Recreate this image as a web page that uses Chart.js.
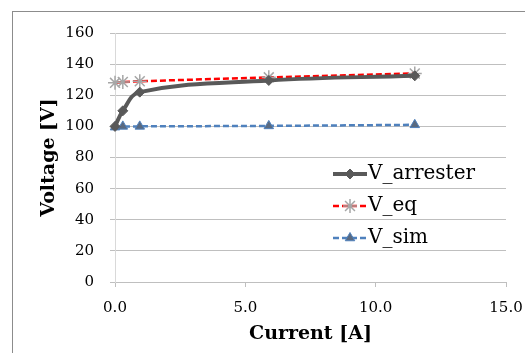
<!DOCTYPE html>
<html>
<head>
<meta charset="utf-8">
<script src="https://cdn.jsdelivr.net/npm/chart.js@4/dist/chart.umd.min.js"></script>
<style>
html,body{margin:0;padding:0;background:#fff;}
#wrap{position:relative;width:525px;height:353px;overflow:hidden;}
#frame{position:absolute;left:12px;top:11px;width:600px;height:400px;border-left:1px solid #8c8c8c;border-top:1px solid #8c8c8c;}
canvas{position:absolute;left:0;top:0;}
</style>
</head>
<body>
<div id="wrap">
<div id="frame"></div>
<canvas id="c" width="525" height="353"></canvas>
</div>
<script>
const current = [0, 0.3, 0.95, 5.9, 11.5];
const vArrester = [100, 110, 122, 129.5, 132.5];
const vEq = [128, 128.5, 129, 131.5, 134];
const vSim = [99.5, 100, 100, 100.3, 101];
const seriesNames = ['V_arrester', 'V_eq', 'V_sim'];
const xTicks = [0, 5, 10, 15];
const yTicks = [0, 20, 40, 60, 80, 100, 120, 140, 160];

const pts = (ys) => current.map((x, i) => ({x: x, y: ys[i]}));
const SERIF = '"DejaVu Serif", "Liberation Serif", serif';

const legendPlugin = {
  id: 'insideLegend',
  afterDatasetsDraw(chart) {
    const ctx = chart.ctx;
    const x0 = 333, x1 = 367, tx = 368;
    const ys = [174, 206, 238];
    chart.data.datasets.forEach((ds, i) => {
      const y = ys[i];
      ctx.save();
      ctx.strokeStyle = ds.borderColor;
      ctx.lineWidth = ds.borderWidth;
      ctx.setLineDash(ds.borderDash || []);
      ctx.beginPath();
      ctx.moveTo(x0, y);
      ctx.lineTo(x1, y);
      ctx.stroke();
      ctx.setLineDash([]);
      ctx.fillStyle = ds.pointBackgroundColor;
      ctx.strokeStyle = ds.pointBorderColor;
      ctx.lineWidth = ds.pointBorderWidth;
      Chart.helpers.drawPoint(ctx, {pointStyle: ds.pointStyle, radius: ds.pointRadius, rotation: 0, borderWidth: ds.pointBorderWidth}, (x0 + x1) / 2, y);
      ctx.fillStyle = '#000';
      ctx.font = '20px ' + SERIF;
      ctx.textBaseline = 'middle';
      ctx.textAlign = 'left';
      ctx.fillText(ds.label, tx, y);
      ctx.restore();
    });
  }
};

new Chart(document.getElementById('c'), {
  type: 'line',
  data: {
    datasets: [
      {
        label: seriesNames[0], data: pts(vArrester), borderColor: '#595959', borderWidth: 4,
        tension: 0.4, clip: false,
        pointStyle: 'rectRot', pointRadius: 5, pointBackgroundColor: '#595959', pointBorderColor: '#595959', pointBorderWidth: 1
      },
      {
        label: seriesNames[1], data: pts(vEq), borderColor: '#ff0000', borderWidth: 2.5, borderDash: [6, 3],
        tension: 0, clip: false,
        pointStyle: 'star', pointRadius: 7, pointBackgroundColor: '#a6a6a6', pointBorderColor: '#a6a6a6', pointBorderWidth: 1.5
      },
      {
        label: seriesNames[2], data: pts(vSim), borderColor: '#4f81bd', borderWidth: 2.5, borderDash: [6, 3],
        tension: 0, clip: false,
        pointStyle: 'triangle', pointRadius: 5.5, pointBackgroundColor: '#5a6a80', pointBorderColor: '#4f81bd', pointBorderWidth: 1
      }
    ]
  },
  options: {
    responsive: false,
    animation: false,
    events: [],
    layout: {padding: {left: 0, right: 19, top: 33, bottom: 0}},
    plugins: {legend: {display: false}, tooltip: {enabled: false}},
    scales: {
      x: {
        type: 'linear', min: 0, max: 15,
        afterFit: (s) => { s.height = 71; s.paddingLeft = 0; s.paddingRight = 0; },
        afterBuildTicks: (s) => { s.ticks = xTicks.map(v => ({value: v})); },
        grid: {drawOnChartArea: false, drawTicks: true, tickLength: 5, color: '#bfbfbf'},
        border: {color: '#bfbfbf'},
        ticks: {font: {family: SERIF, size: 15}, color: '#000', padding: 12, maxRotation: 0,
          callback: (v) => Number(v).toFixed(1)},
        title: {display: true, text: 'Current [A]', font: {family: SERIF, size: 19, weight: 'bold'}, color: '#000', padding: {top: 0, bottom: 8}}
      },
      y: {
        type: 'linear', min: 0, max: 160,
        afterFit: (s) => { s.width = 115; s.paddingTop = 0; s.paddingBottom = 0; },
        afterBuildTicks: (s) => { s.ticks = yTicks.map(v => ({value: v})); },
        grid: {color: '#bfbfbf', drawTicks: true, tickLength: 5},
        border: {color: '#d9d9d9'},
        ticks: {font: {family: SERIF, size: 15}, color: '#000', padding: 16},
        title: {display: true, text: 'Voltage [V]', font: {family: SERIF, size: 19, weight: 'bold'}, color: '#000', padding: {top: 38, bottom: 0}}
      }
    }
  },
  plugins: [legendPlugin]
});
</script>
</body>
</html>
